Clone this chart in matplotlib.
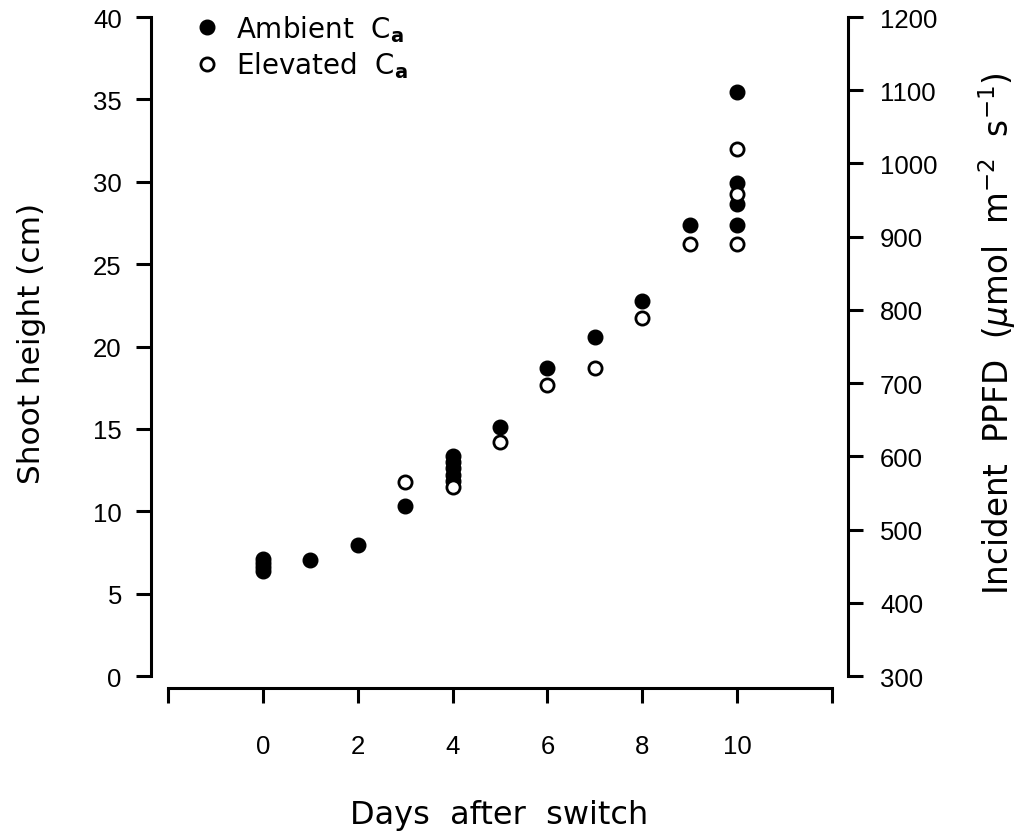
import matplotlib
matplotlib.use("Agg")
import matplotlib.pyplot as plt

plt.rcParams['font.family'] = ['Liberation Sans', 'DejaVu Sans']
plt.rcParams['mathtext.fontset'] = 'custom'
plt.rcParams['mathtext.rm'] = 'DejaVu Sans'
plt.rcParams['mathtext.it'] = 'DejaVu Sans:italic'
plt.rcParams['mathtext.bf'] = 'DejaVu Sans:bold'

# shoot height (cm) by day after switch
ambient_days = [0, 0, 0, 0, 1, 2, 3, 4, 4, 4, 4, 4, 5, 6, 7, 8, 9, 10, 10, 10, 10]
ambient_height = [7.1, 6.85, 6.6, 6.4, 7.04, 7.95, 10.3, 13.35, 13.0, 12.6, 12.2, 11.85,
                  15.1, 18.7, 20.6, 22.75, 27.4, 35.45, 29.9, 28.65, 27.4]
elevated_days = [3, 4, 5, 6, 7, 8, 9, 10, 10, 10]
elevated_height = [11.8, 11.5, 14.2, 17.65, 18.7, 21.7, 26.2, 32.0, 29.25, 26.2]

x_ticks = [-2, 0, 2, 4, 6, 8, 10, 12]
x_labels = ['', '0', '2', '4', '6', '8', '10', '']
left_ticks = [0, 5, 10, 15, 20, 25, 30, 35, 40]
right_ticks = [300, 400, 500, 600, 700, 800, 900, 1000, 1100, 1200]

label_font = 'DejaVu Sans'

fig = plt.figure(figsize=(10.27, 8.37), dpi=100)
ax = fig.add_axes([151 / 1027, 1 - 689 / 837, 697 / 1027, 671 / 837])

ax.plot(ambient_days, ambient_height, 'o', color='black', markersize=10.5,
        label='Ambient  C$_\\mathbf{a}$', zorder=3)
ax.plot(elevated_days, elevated_height, 'o', markerfacecolor='white',
        markeredgecolor='black', markeredgewidth=2.0, markersize=9.5,
        label='Elevated  C$_\\mathbf{a}$', zorder=4)

ax.set_xlim(-2.358, 12.337)
ax.set_ylim(-0.728, 40)

for s in ['top', 'right']:
    ax.spines[s].set_visible(False)
for s in ['left', 'bottom']:
    ax.spines[s].set_linewidth(2.2)
ax.spines['left'].set_bounds(0, 40)
ax.spines['bottom'].set_bounds(-2, 12)

ax.set_xticks(x_ticks)
ax.set_xticklabels(x_labels)
ax.set_yticks(left_ticks)
ax.tick_params(axis='both', direction='out', length=11, width=2.2, labelsize=18.5)
ax.tick_params(axis='x', pad=22)
ax.tick_params(axis='y', pad=10)

ax.set_xlabel('Days  after  switch', fontsize=23, labelpad=30, family=label_font)
ax.set_ylabel('Shoot height (cm)', fontsize=22.5, labelpad=34, family=label_font)
ax.yaxis.label.set_y(0.515)

ax2 = ax.twinx()
ax2.set_ylim(300 + (-0.728) * 22.5, 1200)
for s in ['top', 'left', 'bottom']:
    ax2.spines[s].set_visible(False)
ax2.spines['right'].set_linewidth(2.2)
ax2.spines['right'].set_bounds(300, 1200)
ax2.set_yticks(right_ticks)
ax2.tick_params(axis='y', direction='out', length=11, width=2.2, labelsize=18.5, pad=12)
ax2.set_ylabel('Incident  PPFD  ($\\mu$mol  m$^{-2}$  s$^{-1}$)', fontsize=23.5,
               labelpad=28, family=label_font)
ax2.yaxis.label.set_y(0.53)

ax.legend(loc='upper left', bbox_to_anchor=(0.032, 1.035), frameon=False,
          prop={'family': label_font, 'size': 20}, handletextpad=0.55,
          labelspacing=0.2, borderpad=0.2, handlelength=1.0)

fig.savefig('out.png', dpi=100)
